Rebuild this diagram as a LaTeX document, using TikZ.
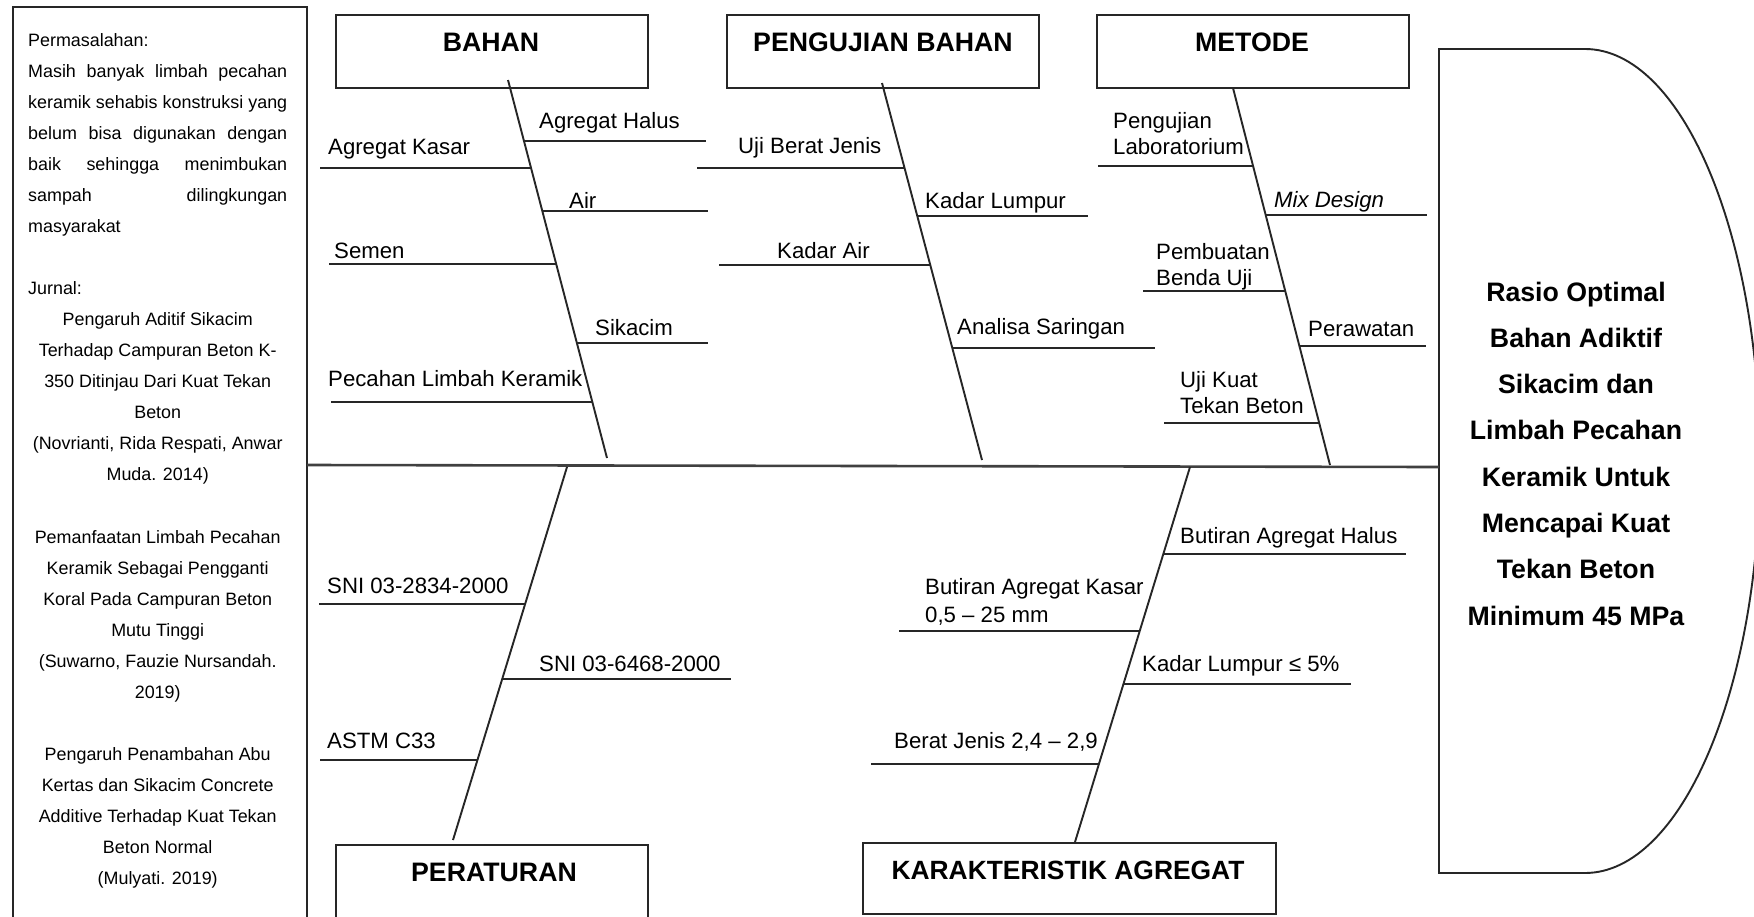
\documentclass[tikz,border=0pt]{standalone}
\usepackage{fontspec}
\setmainfont{Liberation Sans}
\usetikzlibrary{calc}
\tikzset{
  ln/.style={line width=1.9pt, black!85},
  spineline/.style={line width=2.6pt, black!75},
  catbox/.style={draw, line width=2pt, black!85, inner sep=0pt},
  cattitle/.style={font=\fontsize{26.7}{30}\selectfont\bfseries, anchor=base, inner sep=0pt},
  lbl/.style={font=\fontsize{22.2}{26}\selectfont, anchor=base west, inner sep=0pt},
}
\newcommand{\myjline}[1]{\makebox[259pt][s]{#1}}
\newcommand{\mylline}[1]{\makebox[259pt][l]{#1}}
\newcommand{\mycline}[1]{\makebox[259pt][c]{#1}}
\begin{document}
\begin{tikzpicture}[x=1pt,y=-1pt]
\useasboundingbox (0,0) rectangle (1754,916);
\fill[white] (0,0) rectangle (1754,916);

% left text box
\node[catbox, minimum width=294pt, minimum height=923pt] (lbox) at (160,468.5) {};
\node[anchor=base west, inner sep=0pt] (ltext) at (28,46) {\parbox[t]{259pt}{\fontsize{17.9}{31.07}\selectfont
\mylline{Permasalahan:}\\
\myjline{Masih banyak limbah pecahan}\\
\myjline{keramik sehabis konstruksi yang}\\
\myjline{belum bisa digunakan dengan}\\
\myjline{baik sehingga menimbukan}\\
\myjline{sampah dilingkungan}\\
\mylline{masyarakat}\\
\mbox{}\\
\mylline{Jurnal:}\\
\mycline{Pengaruh Aditif Sikacim}\\
\mycline{Terhadap Campuran Beton K-}\\
\mycline{350 Ditinjau Dari Kuat Tekan}\\
\mycline{Beton}\\
\mycline{(Novrianti, Rida Respati, Anwar}\\
\mycline{Muda. 2014)}\\
\mbox{}\\
\mycline{Pemanfaatan Limbah Pecahan}\\
\mycline{Keramik Sebagai Pengganti}\\
\mycline{Koral Pada Campuran Beton}\\
\mycline{Mutu Tinggi}\\
\mycline{(Suwarno, Fauzie Nursandah.}\\
\mycline{2019)}\\
\mbox{}\\
\mycline{Pengaruh Penambahan Abu}\\
\mycline{Kertas dan Sikacim Concrete}\\
\mycline{Additive Terhadap Kuat Tekan}\\
\mycline{Beton Normal}\\
\mycline{(Mulyati. 2019)}}};

% category boxes
\node[catbox, minimum width=312pt, minimum height=73pt] (bahan) at (492,51.5) {};
\node[cattitle] (bahant) at (491,51) {BAHAN};
\node[catbox, minimum width=312pt, minimum height=73pt] (uji) at (883,51.5) {};
\node[cattitle] (ujit) at (883,51) {PENGUJIAN BAHAN};
\node[catbox, minimum width=312pt, minimum height=73pt] (metode) at (1253,51.5) {};
\node[cattitle] (metodet) at (1252,51) {METODE};
\node[catbox, minimum width=312pt, minimum height=77pt] (atur) at (492,883.5) {};
\node[cattitle] (aturt) at (494,881) {PERATURAN};
\node[catbox, minimum width=413pt, minimum height=71pt] (kar) at (1069.5,878.5) {};
\node[cattitle, font=\fontsize{26.4}{30}\selectfont\bfseries] (kart) at (1068,879) {KARAKTERISTIK AGREGAT};

% head
\draw[ln] (1439,873) -- (1439,49) -- (1585,49) arc[start angle=90, end angle=-90, x radius=175pt, y radius=412pt] -- cycle;
\node[anchor=base, inner sep=0pt] (head) at (1576,301) {\parbox[t]{300pt}{\centering\fontsize{26.7}{46.3}\selectfont\bfseries
Rasio Optimal\\ Bahan Adiktif\\ Sikacim dan\\ Limbah Pecahan\\ Keramik Untuk\\ Mencapai Kuat\\ Tekan Beton\\ Minimum 45 MPa}};

% spine
\coordinate (spL) at (307,465);
\coordinate (spR) at (1439,467);
\draw[spineline] (spL) -- (spR);

% ---------- BAHAN ----------
\coordinate (b1) at (508,80);
\coordinate (b2) at (607,458);
\draw[ln] (b1) -- (b2);
\coordinate (ba1) at (524,141);   \coordinate (ba1e) at (706,141);
\coordinate (ba2) at (531,168);   \coordinate (ba2e) at (320,168);
\coordinate (ba3) at (542.3,211); \coordinate (ba3e) at (708,211);
\coordinate (ba4) at (556.2,264); \coordinate (ba4e) at (329,264);
\coordinate (ba5) at (576.9,343); \coordinate (ba5e) at (708,343);
\coordinate (ba6) at (592.3,402); \coordinate (ba6e) at (331,402);
\foreach \c in {ba1,ba2,ba3,ba4,ba5,ba6} \draw[ln] (\c) -- (\c e);
\node[lbl] (lba1) at (539,128) {Agregat Halus};
\node[lbl] (lba2) at (328,154) {Agregat Kasar};
\node[lbl] (lba3) at (569,208) {Air};
\node[lbl] (lba4) at (334,258) {Semen};
\node[lbl] (lba5) at (595,335) {Sikacim};
\node[lbl] (lba6) at (328,386) {Pecahan Limbah Keramik};

% ---------- PENGUJIAN BAHAN ----------
\coordinate (u1) at (882,83);
\coordinate (u2) at (982,460);
\draw[ln] (u1) -- (u2);
\coordinate (ua1) at (904.5,168); \coordinate (ua1e) at (697,168);
\coordinate (ua2) at (917.3,216); \coordinate (ua2e) at (1088,216);
\coordinate (ua3) at (930.3,265); \coordinate (ua3e) at (719,265);
\coordinate (ua4) at (952.3,348); \coordinate (ua4e) at (1155,348);
\foreach \c in {ua1,ua2,ua3,ua4} \draw[ln] (\c) -- (\c e);
\node[lbl] (lua1) at (738,153) {Uji Berat Jenis};
\node[lbl] (lua2) at (925,208) {Kadar Lumpur};
\node[lbl] (lua3) at (777,258) {Kadar Air};
\node[lbl] (lua4) at (957,334) {Analisa Saringan};

% ---------- METODE ----------
\coordinate (m1) at (1233,88);
\coordinate (m2) at (1330,465);
\draw[ln] (m1) -- (m2);
\coordinate (ma1) at (1253.1,166); \coordinate (ma1e) at (1098,166);
\coordinate (ma2) at (1265.7,215); \coordinate (ma2e) at (1427,215);
\coordinate (ma3) at (1285.2,291); \coordinate (ma3e) at (1143,291);
\coordinate (ma4) at (1299.4,346); \coordinate (ma4e) at (1426,346);
\coordinate (ma5) at (1319.2,423); \coordinate (ma5e) at (1164,423);
\foreach \c in {ma1,ma2,ma3,ma4,ma5} \draw[ln] (\c) -- (\c e);
\node[lbl] (lma1a) at (1113,128) {Pengujian};
\node[lbl] (lma1b) at (1113,154) {Laboratorium};
\node[lbl] (lma2) at (1274,207) {\textit{Mix Design}};
\node[lbl] (lma3a) at (1156,259) {Pembuatan};
\node[lbl] (lma3b) at (1156,285) {Benda Uji};
\node[lbl] (lma4) at (1308,336) {Perawatan};
\node[lbl] (lma5a) at (1180,387) {Uji Kuat};
\node[lbl] (lma5b) at (1180,413) {Tekan Beton};

% ---------- PERATURAN ----------
\coordinate (p1) at (567,467);
\coordinate (p2) at (453,840);
\draw[ln] (p1) -- (p2);
\coordinate (pa1) at (525.1,604); \coordinate (pa1e) at (319,604);
\coordinate (pa2) at (502.2,679); \coordinate (pa2e) at (731,679);
\coordinate (pa3) at (477.5,760); \coordinate (pa3e) at (320,760);
\foreach \c in {pa1,pa2,pa3} \draw[ln] (\c) -- (\c e);
\node[lbl] (lpa1) at (327,593) {SNI 03-2834-2000};
\node[lbl] (lpa2) at (539,671) {SNI 03-6468-2000};
\node[lbl] (lpa3) at (327,748) {ASTM C33};

% ---------- KARAKTERISTIK AGREGAT ----------
\coordinate (k1) at (1190,467);
\coordinate (k2) at (1075,842);
\draw[ln] (k1) -- (k2);
\coordinate (ka1) at (1163.3,554); \coordinate (ka1e) at (1406,554);
\coordinate (ka2) at (1139.7,631); \coordinate (ka2e) at (899,631);
\coordinate (ka3) at (1123.4,684); \coordinate (ka3e) at (1351,684);
\coordinate (ka4) at (1098.9,764); \coordinate (ka4e) at (871,764);
\foreach \c in {ka1,ka2,ka3,ka4} \draw[ln] (\c) -- (\c e);
\node[lbl] (lka1) at (1180,543) {Butiran Agregat Halus};
\node[lbl] (lka2a) at (925,594) {Butiran Agregat Kasar};
\node[lbl] (lka2b) at (925,622) {0,5 – 25 mm};
\node[lbl] (lka3) at (1142,671) {Kadar Lumpur ≤ 5\%};
\node[lbl] (lka4) at (894,748) {Berat Jenis 2,4 – 2,9};
\end{tikzpicture}
\end{document}
